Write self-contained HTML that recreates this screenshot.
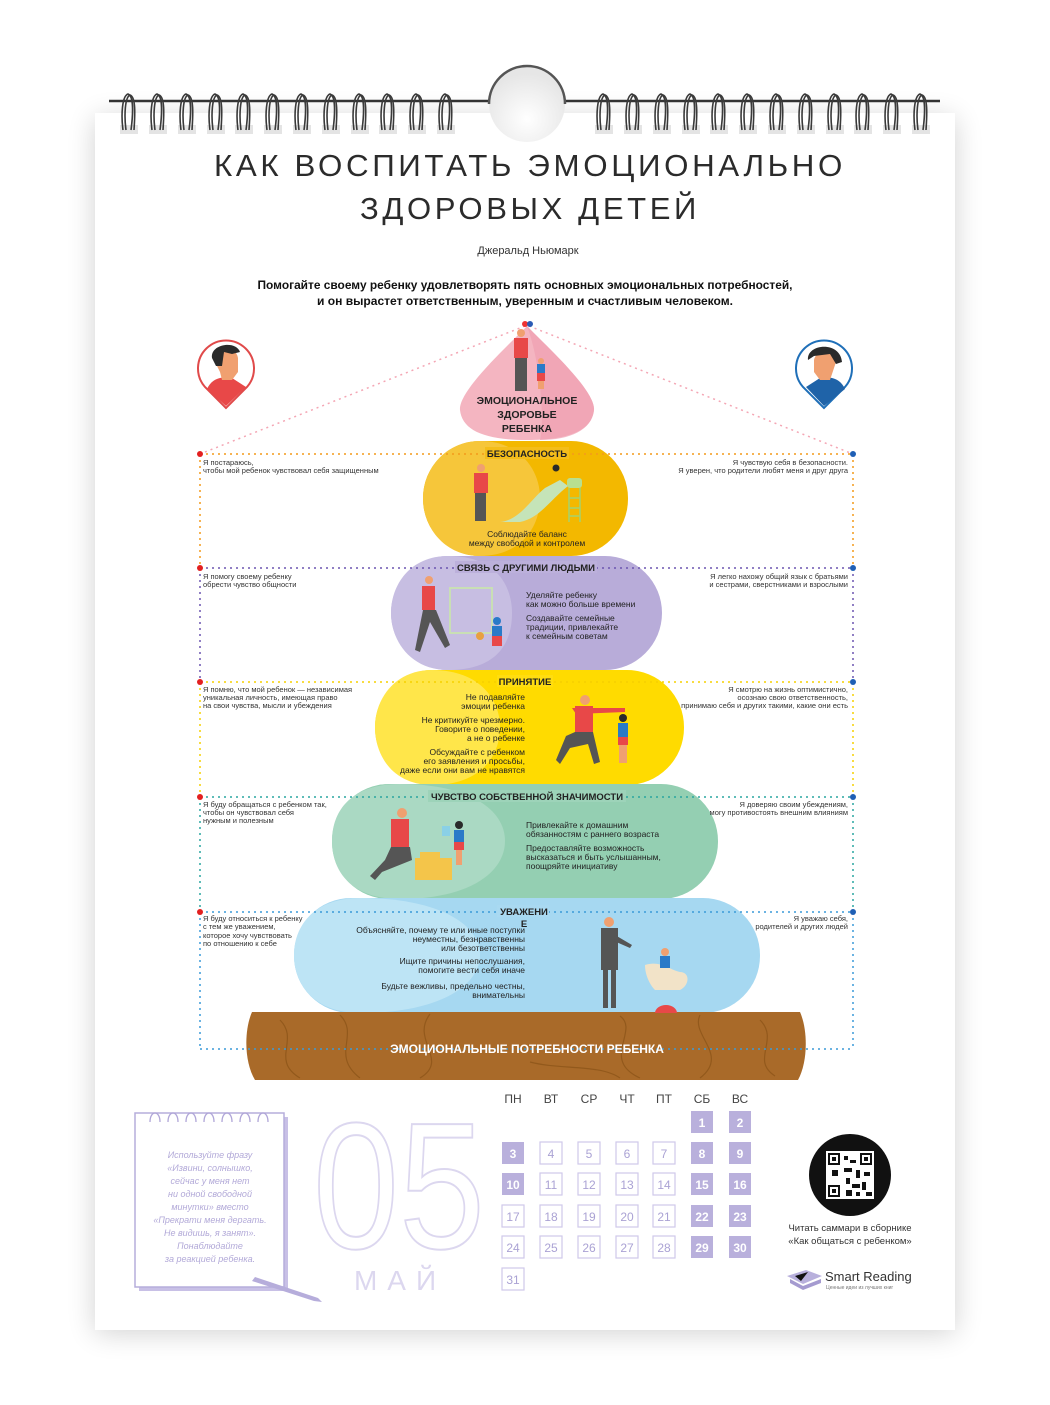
<!DOCTYPE html>
<html><head><meta charset="utf-8"><style>
html,body{margin:0;padding:0;background:#fff;}
body{width:1050px;height:1400px;overflow:hidden;font-family:"Liberation Sans","Noto Sans CJK SC",sans-serif;}
svg text{font-family:"Liberation Sans","Noto Sans CJK SC",sans-serif;}
</style></head><body>
<svg width="1050" height="1400" viewBox="0 0 1050 1400" xmlns="http://www.w3.org/2000/svg">
<defs>
<filter id="sh" x="-10%" y="-10%" width="120%" height="120%"><feGaussianBlur stdDeviation="14"/></filter>
<radialGradient id="hole" cx="0.5" cy="0.7" r="0.6"><stop offset="0" stop-color="#fff"/><stop offset="1" stop-color="#e6e6e6"/></radialGradient>
<g id="r"><rect x="-1" y="125" width="18" height="9" fill="#e4e4e4" stroke="none"/><path d="M2,130 C0,115 1,96 7,94 C13,96 12,115 10,130"/><path d="M5,130 C3,115 4,97 9,95 C15,97 14,115 13,130"/></g>
</defs>
<rect x="95" y="118" width="860" height="1215" fill="#000" opacity="0.18" filter="url(#sh)"/>
<rect x="95" y="113" width="860" height="1217" fill="#fff"/>
<line x1="109" y1="101" x2="490" y2="101" stroke="#333" stroke-width="2.5"/>
<line x1="565" y1="101" x2="940" y2="101" stroke="#333" stroke-width="2.5"/>
<circle cx="527" cy="104" r="38" fill="url(#hole)"/>
<path d="M489,104 A38,38 0 0 1 565,104" fill="none" stroke="#555" stroke-width="2.5"/>
<g fill="none" stroke="#3a3a3a" stroke-width="1.6">
<use href="#r" x="121"/><use href="#r" x="150"/><use href="#r" x="179"/><use href="#r" x="208"/><use href="#r" x="236"/><use href="#r" x="265"/><use href="#r" x="294"/><use href="#r" x="323"/><use href="#r" x="352"/><use href="#r" x="380"/><use href="#r" x="409"/><use href="#r" x="438"/>
<use href="#r" x="596"/><use href="#r" x="625"/><use href="#r" x="654"/><use href="#r" x="683"/><use href="#r" x="711"/><use href="#r" x="740"/><use href="#r" x="769"/><use href="#r" x="798"/><use href="#r" x="827"/><use href="#r" x="855"/><use href="#r" x="884"/><use href="#r" x="913"/>
</g>

<!-- Title -->
<text x="530" y="176" text-anchor="middle" font-size="31" letter-spacing="3.6" fill="#2b2b2b" textLength="632" lengthAdjust="spacingAndGlyphs">КАК ВОСПИТАТЬ ЭМОЦИОНАЛЬНО</text>
<text x="530" y="219" text-anchor="middle" font-size="31" letter-spacing="3.6" fill="#2b2b2b" textLength="340" lengthAdjust="spacingAndGlyphs">ЗДОРОВЫХ ДЕТЕЙ</text>
<text x="528" y="254" text-anchor="middle" font-size="11" fill="#333">Джеральд Ньюмарк</text>
<text x="525" y="289" text-anchor="middle" font-size="12" font-weight="bold" fill="#111" textLength="535" lengthAdjust="spacingAndGlyphs">Помогайте своему ребенку удовлетворять пять основных эмоциональных потребностей,</text>
<text x="525" y="305" text-anchor="middle" font-size="12" font-weight="bold" fill="#111" textLength="416" lengthAdjust="spacingAndGlyphs">и он вырастет ответственным, уверенным и счастливым человеком.</text>

<g stroke="#f4a6b4" stroke-width="1.5" stroke-dasharray="2,4" fill="none">
<line x1="525" y1="326" x2="200" y2="454"/>
<line x1="529" y1="326" x2="853" y2="454"/>
</g>

<!-- pins -->
<path d="M226,408 L205,387 A28,28 0 1 1 247,387 Z" fill="#fff" stroke="#e04a4a" stroke-width="2"/>
<path d="M226,406 L207,389 C212,378 222,376 232,378 L246,387 Z" fill="#e84848"/>
<path d="M214,360 C214,346 236,344 238,358 L238,372 L232,380 L222,380 L220,372 Z" fill="#f0a070"/>
<path d="M212,358 C210,344 236,340 240,352 L232,354 L224,352 L222,366 L216,366 Z" fill="#2a2a2a"/>
<path d="M824,408 L803,387 A28,28 0 1 1 845,387 Z" fill="#fff" stroke="#1f6fb8" stroke-width="2"/>
<path d="M824,406 L845,389 C840,378 830,376 820,378 L806,387 Z" fill="#1f63a8"/>
<path d="M836,362 C836,350 816,348 814,360 L814,372 L820,380 L830,380 Z" fill="#f0a070"/>
<path d="M808,360 C806,344 840,340 842,362 L836,364 L830,354 L814,356 Z" fill="#2a2a2a"/>

<!-- Pink cone -->
<path d="M527,326 C540,340 596,390 594,410 C592,430 570,440 527,440 C484,440 462,430 460,410 C458,390 514,340 527,326 Z" fill="#f4b5c1"/>
<path d="M527,326 C540,340 596,390 594,410 C592,430 570,440 540,440 C545,420 540,360 527,326 Z" fill="#ef9fb0" opacity="0.7"/>
<circle cx="525" cy="324" r="3" fill="#e33"/><circle cx="530" cy="324" r="3" fill="#2b5bb5"/>
<circle cx="521" cy="333" r="4" fill="#f0a070"/><rect x="514" y="338" width="14" height="20" fill="#e84848"/><rect x="515" y="358" width="12" height="33" fill="#555"/>
<circle cx="541" cy="361" r="3" fill="#f0a070"/><rect x="537" y="364" width="8" height="9" fill="#2a7ac8"/><rect x="537" y="373" width="8" height="8" fill="#e84848"/><rect x="538" y="381" width="6" height="8" fill="#f0a070"/>
<text x="527" y="404" text-anchor="middle" font-size="10.5" font-weight="bold" fill="#222">ЭМОЦИОНАЛЬНОЕ</text>
<text x="527" y="418" text-anchor="middle" font-size="10.5" font-weight="bold" fill="#222">ЗДОРОВЬЕ</text>
<text x="527" y="432" text-anchor="middle" font-size="10.5" font-weight="bold" fill="#222">РЕБЕНКА</text>

<rect x="423" y="441" width="205" height="115" rx="57" fill="#f3b800"/>
<path d="M480,441 C520,441 540,470 540,498 C540,528 520,556 480,556 C445,556 423,528 423,498 C423,470 445,441 480,441 Z" fill="#f6c63a"/>
<rect x="391" y="556" width="271" height="114" rx="57" fill="#b8acd9"/>
<path d="M448,556 C500,556 512,590 512,613 C512,640 500,670 448,670 C410,670 391,640 391,613 C391,585 410,556 448,556 Z" fill="#c7bee2"/>
<rect x="375" y="670" width="309" height="115" rx="57" fill="#ffdb00"/>
<path d="M432,670 C480,670 500,700 500,727 C500,757 480,785 432,785 C394,785 375,757 375,727 C375,700 394,670 432,670 Z" fill="#ffe64a"/>
<rect x="332" y="784" width="386" height="115" rx="57" fill="#94cfb2"/>
<path d="M400,784 C470,784 505,810 505,841 C505,872 470,899 400,899 C352,899 332,872 332,841 C332,810 352,784 400,784 Z" fill="#aad9c3"/>
<rect x="294" y="898" width="466" height="115" rx="57" fill="#a6d8f1"/>
<path d="M360,898 C440,898 480,925 480,955 C480,985 440,1013 360,1013 C315,1013 294,985 294,955 C294,925 315,898 360,898 Z" fill="#bde4f5"/>
<path d="M252,1012 L800,1012 C808,1030 808,1062 798,1080 L255,1080 C244,1062 244,1030 252,1012 Z" fill="#a96a29"/>
<g fill="none" stroke="#8d5519" stroke-width="1.2" opacity="0.8">
<path d="M280,1020 C300,1040 270,1060 300,1078"/><path d="M340,1015 C360,1035 330,1055 360,1078"/><path d="M430,1014 C410,1040 450,1060 420,1078"/><path d="M620,1016 C640,1030 600,1060 640,1078"/><path d="M700,1015 C690,1035 730,1055 700,1078"/><path d="M760,1020 C780,1040 750,1060 775,1076"/><path d="M530,1062 C560,1070 600,1064 620,1078"/>
</g>

<g fill="none" stroke-width="1.5" stroke-dasharray="2,4">
<path d="M200,454 H853" stroke="#f49a1a"/><path d="M200,454 V568 M853,454 V568" stroke="#f49a1a"/>
<path d="M200,568 H853" stroke="#6b55b0"/><path d="M200,568 V682 M853,568 V682" stroke="#6b55b0"/>
<path d="M200,682 H853" stroke="#f5d000"/><path d="M200,682 V797 M853,682 V797" stroke="#f5d000"/>
<path d="M200,797 H853" stroke="#2aa6a0"/><path d="M200,797 V912 M853,797 V912" stroke="#2aa6a0"/>
<path d="M200,912 H853" stroke="#3a9ad8"/><path d="M200,912 V1049 M853,912 V1049" stroke="#3a9ad8"/>
<path d="M200,1049 H853" stroke="#3a9ad8"/>
</g>
<g fill="#e32020"><circle cx="200" cy="454" r="3"/><circle cx="200" cy="568" r="3"/><circle cx="200" cy="682" r="3"/><circle cx="200" cy="797" r="3"/><circle cx="200" cy="912" r="3"/></g>
<g fill="#1f5fb5"><circle cx="853" cy="454" r="3"/><circle cx="853" cy="568" r="3"/><circle cx="853" cy="682" r="3"/><circle cx="853" cy="797" r="3"/><circle cx="853" cy="912" r="3"/></g>

<g font-size="9.5" font-weight="bold" fill="#222" text-anchor="middle">
<rect x="485" y="447" width="84" height="12" fill="#f4bd1a"/><text x="527" y="457">БЕЗОПАСНОСТЬ</text>
<rect x="455" y="561" width="142" height="12" fill="#bcb0db"/><text x="526" y="571">СВЯЗЬ С ДРУГИМИ ЛЮДЬМИ</text>
<rect x="497" y="675" width="56" height="12" fill="#ffdd10"/><text x="525" y="685">ПРИНЯТИЕ</text>
<rect x="428" y="790" width="198" height="12" fill="#9dd3b9"/><text x="527" y="800">ЧУВСТВО СОБСТВЕННОЙ ЗНАЧИМОСТИ</text>
<rect x="497" y="905" width="52" height="12" fill="#a9d9f1"/><text x="524" y="915">УВАЖЕНИ</text><text x="524" y="927">Е</text>
</g>
<text x="527" y="1053" text-anchor="middle" font-size="12" font-weight="bold" fill="#fff">ЭМОЦИОНАЛЬНЫЕ ПОТРЕБНОСТИ РЕБЕНКА</text>

<g font-size="7.5" fill="#333">
<text x="203" y="465">Я постараюсь,</text><text x="203" y="473">чтобы мой ребенок чувствовал себя защищенным</text>
<text x="203" y="579">Я помогу своему ребенку</text><text x="203" y="587">обрести чувство общности</text>
<text x="203" y="692">Я помню, что мой ребенок — независимая</text><text x="203" y="700">уникальная личность, имеющая право</text><text x="203" y="708">на свои чувства, мысли и убеждения</text>
<text x="203" y="807">Я буду обращаться с ребенком так,</text><text x="203" y="815">чтобы он чувствовал себя</text><text x="203" y="823">нужным и полезным</text>
<text x="203" y="921">Я буду относиться к ребенку</text><text x="203" y="929">с тем же уважением,</text><text x="203" y="938">которое хочу чувствовать</text><text x="203" y="946">по отношению к себе</text>
</g>
<g font-size="7.5" fill="#333" text-anchor="end">
<text x="848" y="465">Я чувствую себя в безопасности.</text><text x="848" y="473">Я уверен, что родители любят меня и друг друга</text>
<text x="848" y="579">Я легко нахожу общий язык с братьями</text><text x="848" y="587">и сестрами, сверстниками и взрослыми</text>
<text x="848" y="692">Я смотрю на жизнь оптимистично,</text><text x="848" y="700">осознаю свою ответственность,</text><text x="848" y="708">принимаю себя и других такими, какие они есть</text>
<text x="848" y="807">Я доверяю своим убеждениям,</text><text x="848" y="815">могу противостоять внешним влияниям</text>
<text x="848" y="921">Я уважаю себя,</text><text x="848" y="929">родителей и других людей</text>
</g>

<g font-size="8.5" fill="#222">
<text x="527" y="537" text-anchor="middle">Соблюдайте баланс</text><text x="527" y="546" text-anchor="middle">между свободой и контролем</text>
<text x="526" y="598">Уделяйте ребенку</text><text x="526" y="607">как можно больше времени</text>
<text x="526" y="621">Создавайте семейные</text><text x="526" y="630">традиции, привлекайте</text><text x="526" y="639">к семейным советам</text>
</g>
<g font-size="8.5" fill="#222" text-anchor="end">
<text x="525" y="700">Не подавляйте</text><text x="525" y="709">эмоции ребенка</text>
<text x="525" y="723">Не критикуйте чрезмерно.</text><text x="525" y="732">Говорите о поведении,</text><text x="525" y="741">а не о ребенке</text>
<text x="525" y="755">Обсуждайте с ребенком</text><text x="525" y="764">его заявления и просьбы,</text><text x="525" y="773">даже если они вам не нравятся</text>
<text x="525" y="933">Объясняйте, почему те или иные поступки</text><text x="525" y="942">неуместны, безнравственны</text><text x="525" y="951">или безответственны</text>
<text x="525" y="964">Ищите причины непослушания,</text><text x="525" y="973">помогите вести себя иначе</text>
<text x="525" y="989">Будьте вежливы, предельно честны,</text><text x="525" y="998">внимательны</text>
</g>
<g font-size="8.5" fill="#222">
<text x="526" y="828">Привлекайте к домашним</text><text x="526" y="837">обязанностям с раннего возраста</text>
<text x="526" y="851">Предоставляйте возможность</text><text x="526" y="860">высказаться и быть услышанным,</text><text x="526" y="869">поощряйте инициативу</text>
</g>

<!-- figures -->
<circle cx="481" cy="468" r="4" fill="#f0a070"/><rect x="474" y="473" width="14" height="20" fill="#e84848"/><rect x="475" y="493" width="11" height="28" fill="#555"/>
<path d="M500,522 C520,520 530,500 545,488 L560,480 L568,486 C550,500 540,518 520,522 Z" fill="#c5e4b8"/>
<rect x="567" y="478" width="15" height="10" rx="3" fill="#b8df90"/><path d="M569,488 V522 M580,488 V522 M569,498 H580 M569,508 H580 M569,516 H580" stroke="#a5d26e" stroke-width="1.5"/>
<circle cx="556" cy="468" r="3.5" fill="#2a2a2a"/>
<rect x="450" y="588" width="42" height="45" fill="none" stroke="#c9dfb5" stroke-width="2"/>
<circle cx="429" cy="580" r="4" fill="#f0a070"/><rect x="422" y="586" width="13" height="24" fill="#e84848"/><path d="M423,610 L415,650 L420,652 L430,622 L445,648 L450,645 L436,610 Z" fill="#555"/>
<circle cx="497" cy="621" r="4" fill="#2a7ac8"/><rect x="492" y="626" width="10" height="10" fill="#2a7ac8"/><rect x="492" y="636" width="10" height="10" fill="#e84848"/><circle cx="480" cy="636" r="4" fill="#e8a040"/>
<circle cx="585" cy="700" r="5" fill="#f0a070"/><rect x="575" y="706" width="18" height="26" fill="#e84848"/><path d="M572,708 L625,708 L625,712 L576,714Z" fill="#e84848"/><path d="M575,732 L593,732 L600,762 L594,764 L588,744 L570,748 L560,764 L556,760 L566,736Z" fill="#555"/>
<circle cx="623" cy="718" r="4" fill="#2a2a2a"/><rect x="618" y="723" width="10" height="14" fill="#2a7ac8"/><rect x="618" y="737" width="10" height="8" fill="#e84848"/><rect x="619" y="745" width="8" height="18" fill="#f0a070"/>
<circle cx="402" cy="813" r="5" fill="#f0a070"/><rect x="391" y="819" width="18" height="28" fill="#e84848"/><path d="M391,847 L410,847 L412,860 L382,872 L375,880 L370,876 L385,860Z" fill="#555"/>
<path d="M415,880 L415,858 L420,858 L420,852 L440,852 L440,858 L452,858 L452,880Z" fill="#f4c54a"/>
<circle cx="459" cy="825" r="4" fill="#2a2a2a"/><rect x="454" y="830" width="10" height="12" fill="#2a7ac8"/><rect x="454" y="842" width="10" height="8" fill="#e84848"/><rect x="456" y="850" width="6" height="15" fill="#f0a070"/><rect x="442" y="826" width="8" height="10" fill="#8ad0e6"/>
<circle cx="609" cy="922" r="5" fill="#f0a070"/><rect x="601" y="928" width="17" height="42" fill="#555"/><path d="M615,935 L632,945 L630,948 L614,941Z" fill="#555"/><rect x="603" y="970" width="5" height="38" fill="#555"/><rect x="611" y="970" width="5" height="38" fill="#555"/>
<path d="M645,965 C660,960 670,970 680,972 C690,972 690,985 680,990 L655,990 C650,985 645,975 645,965 Z" fill="#f2e3c8"/>
<circle cx="665" cy="952" r="4" fill="#f0a070"/><rect x="660" y="956" width="10" height="12" fill="#2a7ac8"/>
<path d="M655,1013 A11,8 0 0 1 677,1013 Z" fill="#e84848"/>

<!-- notepad -->
<rect x="139" y="1117" width="149" height="174" fill="#c8c0e6"/>
<rect x="135" y="1113" width="149" height="174" fill="#fff" stroke="#b6addb" stroke-width="1.5"/>
<g fill="none" stroke="#b0a6d8" stroke-width="1.3">
<path d="M150,1122 c0,-12 10,-12 10,0"/><path d="M168,1122 c0,-12 10,-12 10,0"/><path d="M186,1122 c0,-12 10,-12 10,0"/><path d="M204,1122 c0,-12 10,-12 10,0"/><path d="M222,1122 c0,-12 10,-12 10,0"/><path d="M240,1122 c0,-12 10,-12 10,0"/><path d="M258,1122 c0,-12 10,-12 10,0"/>
</g>
<path d="M255,1277 L318,1298 L322,1302 L314,1301 L252,1281 Z" fill="#b6addb"/>
<g font-size="9" font-style="italic" fill="#b2a9d8" text-anchor="middle">
<text x="210" y="1158">Используйте фразу</text><text x="210" y="1171">«Извини, солнышко,</text><text x="210" y="1184">сейчас у меня нет</text><text x="210" y="1197">ни одной свободной</text><text x="210" y="1210">минутки» вместо</text><text x="210" y="1223">«Прекрати меня дергать.</text><text x="210" y="1236">Не видишь, я занят».</text><text x="210" y="1249">Понаблюдайте</text><text x="210" y="1262">за реакцией ребенка.</text>
</g>
<text x="399" y="1248" text-anchor="middle" font-size="180" fill="#fff" stroke="#dcd7ef" stroke-width="2" textLength="172" lengthAdjust="spacingAndGlyphs">05</text>
<text x="400" y="1290" text-anchor="middle" font-size="28" fill="#dcd7ef" letter-spacing="10">МАЙ</text>

<!-- calendar -->
<g font-size="12" fill="#444" text-anchor="middle">
<text x="513" y="1103">ПН</text><text x="551" y="1103">ВТ</text><text x="589" y="1103">СР</text><text x="627" y="1103">ЧТ</text><text x="664" y="1103">ПТ</text><text x="702" y="1103">СБ</text><text x="740" y="1103">ВС</text>
</g>
<g fill="#b9b0dc">
<rect x="691" y="1111" width="22" height="22"/><rect x="729" y="1111" width="22" height="22"/>
<rect x="502" y="1142" width="22" height="22"/><rect x="691" y="1142" width="22" height="22"/><rect x="729" y="1142" width="22" height="22"/>
<rect x="502" y="1173" width="22" height="22"/><rect x="691" y="1173" width="22" height="22"/><rect x="729" y="1173" width="22" height="22"/>
<rect x="691" y="1205" width="22" height="22"/><rect x="729" y="1205" width="22" height="22"/>
<rect x="691" y="1236" width="22" height="22"/><rect x="729" y="1236" width="22" height="22"/>
</g>
<g fill="none" stroke="#cfc8ea" stroke-width="1.2">
<rect x="540" y="1142" width="22" height="22"/><rect x="578" y="1142" width="22" height="22"/><rect x="616" y="1142" width="22" height="22"/><rect x="653" y="1142" width="22" height="22"/>
<rect x="540" y="1173" width="22" height="22"/><rect x="578" y="1173" width="22" height="22"/><rect x="616" y="1173" width="22" height="22"/><rect x="653" y="1173" width="22" height="22"/>
<rect x="502" y="1205" width="22" height="22"/><rect x="540" y="1205" width="22" height="22"/><rect x="578" y="1205" width="22" height="22"/><rect x="616" y="1205" width="22" height="22"/><rect x="653" y="1205" width="22" height="22"/>
<rect x="502" y="1236" width="22" height="22"/><rect x="540" y="1236" width="22" height="22"/><rect x="578" y="1236" width="22" height="22"/><rect x="616" y="1236" width="22" height="22"/><rect x="653" y="1236" width="22" height="22"/>
<rect x="502" y="1268" width="22" height="22"/>
</g>
<g font-size="12" text-anchor="middle" font-weight="bold" fill="#fff">
<text x="702" y="1127">1</text><text x="740" y="1127">2</text>
<text x="513" y="1158">3</text><text x="702" y="1158">8</text><text x="740" y="1158">9</text>
<text x="513" y="1189">10</text><text x="702" y="1189">15</text><text x="740" y="1189">16</text>
<text x="702" y="1221">22</text><text x="740" y="1221">23</text>
<text x="702" y="1252">29</text><text x="740" y="1252">30</text>
</g>
<g font-size="12" text-anchor="middle" fill="#aaa2d4">
<text x="551" y="1158">4</text><text x="589" y="1158">5</text><text x="627" y="1158">6</text><text x="664" y="1158">7</text>
<text x="551" y="1189">11</text><text x="589" y="1189">12</text><text x="627" y="1189">13</text><text x="664" y="1189">14</text>
<text x="513" y="1221">17</text><text x="551" y="1221">18</text><text x="589" y="1221">19</text><text x="627" y="1221">20</text><text x="664" y="1221">21</text>
<text x="513" y="1252">24</text><text x="551" y="1252">25</text><text x="589" y="1252">26</text><text x="627" y="1252">27</text><text x="664" y="1252">28</text>
<text x="513" y="1284">31</text>
</g>

<!-- QR -->
<circle cx="850" cy="1175" r="41" fill="#111"/>
<rect x="826" y="1151" width="48" height="48" fill="#fff"/>
<g fill="#111">
<rect x="828" y="1153" width="12" height="12"/><rect x="860" y="1153" width="12" height="12"/><rect x="828" y="1185" width="12" height="12"/>
<rect x="844" y="1156" width="4" height="4"/><rect x="850" y="1160" width="6" height="3"/><rect x="844" y="1168" width="8" height="4"/><rect x="856" y="1170" width="4" height="8"/><rect x="864" y="1172" width="6" height="4"/><rect x="846" y="1178" width="4" height="6"/><rect x="852" y="1184" width="8" height="4"/><rect x="862" y="1182" width="4" height="8"/><rect x="846" y="1190" width="6" height="6"/><rect x="856" y="1192" width="4" height="4"/><rect x="866" y="1192" width="6" height="4"/><rect x="832" y="1170" width="6" height="6"/>
</g>
<g fill="#fff"><rect x="830" y="1155" width="8" height="8"/><rect x="862" y="1155" width="8" height="8"/><rect x="830" y="1187" width="8" height="8"/></g>
<g fill="#111"><rect x="832" y="1157" width="4" height="4"/><rect x="864" y="1157" width="4" height="4"/><rect x="832" y="1189" width="4" height="4"/></g>
<text x="850" y="1231" text-anchor="middle" font-size="9.5" fill="#333">Читать саммари в сборнике</text>
<text x="850" y="1244" text-anchor="middle" font-size="9.5" fill="#333">«Как общаться с ребенком»</text>
<path d="M787,1276 L806,1270 L822,1276 L803,1284 Z" fill="#b8b0dc"/><path d="M790,1279 L803,1286 L821,1279 L821,1283 L803,1290 L790,1283Z" fill="#a59bd0"/><path d="M795,1276 L808,1272 L801,1281Z" fill="#111"/>
<text x="825" y="1281" font-size="13" fill="#333">Smart Reading</text>
<text x="826" y="1289" font-size="5" fill="#777">Ценные идеи из лучших книг</text>
</svg>
</body></html>
